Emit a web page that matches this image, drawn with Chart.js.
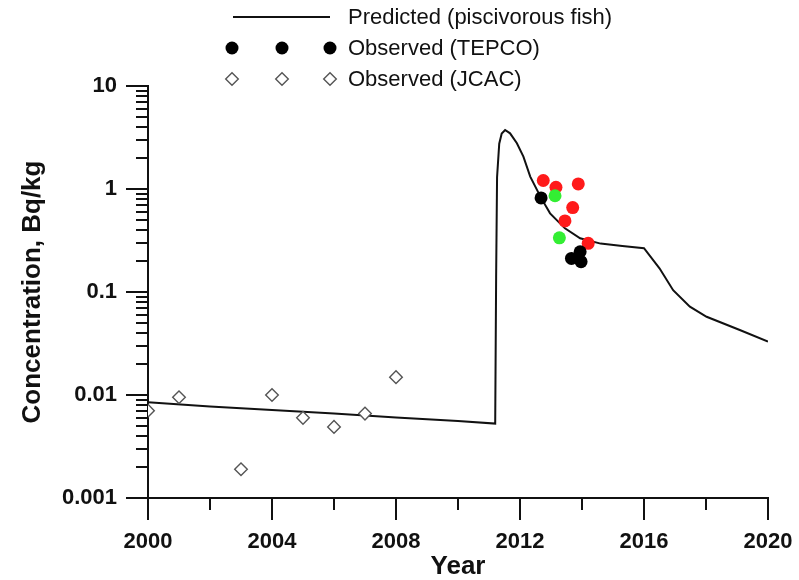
<!DOCTYPE html>
<html><head><meta charset="utf-8">
<script src="https://cdn.jsdelivr.net/npm/chart.js@4"></script>
<style>html,body{margin:0;padding:0;background:#fff}</style>
</head><body>
<canvas id="c" width="799" height="580"></canvas>
<script>
// ---- data ----
const predictedYears  = [2000, 2002, 2004, 2006, 2008, 2010, 2011.20, 2011.23, 2011.26, 2011.33, 2011.41, 2011.52, 2011.68, 2011.90, 2012.11, 2012.33, 2012.68, 2012.97, 2013.45, 2013.94, 2014.6, 2015.3, 2016.0, 2016.5, 2016.94, 2017.48, 2018.02, 2019.09, 2020];
const predictedValues = [0.00849, 0.00773, 0.00715, 0.00661, 0.00605, 0.0056, 0.00528, 0.14, 1.3, 2.75, 3.45, 3.74, 3.47, 2.78, 2.06, 1.32, 0.82, 0.58, 0.415, 0.332, 0.295, 0.28, 0.266, 0.17, 0.104, 0.072, 0.0575, 0.0428, 0.033];
const jcacYears  = [2000, 2001, 2003, 2004, 2005, 2006, 2007, 2008];
const jcacValues = [0.00705, 0.0095, 0.0019, 0.0100, 0.0060, 0.0049, 0.0066, 0.0149];
const tepcoBlackYears  = [2012.68, 2013.66, 2013.94, 2013.97];
const tepcoBlackValues = [0.82, 0.212, 0.246, 0.197];
const tepcoRedYears  = [2012.75, 2013.16, 2013.88, 2013.70, 2013.45, 2014.20];
const tepcoRedValues = [1.21, 1.04, 1.12, 0.66, 0.49, 0.297];
const tepcoGreenYears  = [2013.13, 2013.27];
const tepcoGreenValues = [0.86, 0.336];
const xTickLabels = ['2000', '2004', '2008', '2012', '2016', '2020'];
const yTickLabels = ['0.001', '0.01', '0.1', '1', '10'];
const legendLabels = ['Predicted (piscivorous fish)', 'Observed (TEPCO)', 'Observed (JCAC)'];
const xTitle = 'Year';
const yTitle = 'Concentration, Bq/kg';

const pts = (xs, ys) => xs.map((x, i) => ({x: x, y: ys[i]}));
const FONT = '"Liberation Sans", Arial, sans-serif';
const INK = '#111';

const axisTicksPlugin = {
  id: 'axisTicks',
  afterDraw(chart) {
    const ctx = chart.ctx, xs = chart.scales.x, ys = chart.scales.y, a = chart.chartArea;
    ctx.save();
    ctx.strokeStyle = INK; ctx.lineWidth = 2;
    ctx.beginPath();
    xs.ticks.forEach(t => {
      const px = Math.round(xs.getPixelForValue(t.value));
      const len = t.label !== '' ? 22 : 12;
      ctx.moveTo(px, a.bottom); ctx.lineTo(px, a.bottom + len);
    });
    ys.ticks.forEach(t => {
      const py = Math.round(ys.getPixelForValue(t.value));
      const len = t.label !== '' ? 22 : 12;
      ctx.moveTo(a.left, py); ctx.lineTo(a.left - len, py);
    });
    ctx.stroke();
    ctx.restore();
  }
};

const legendPlugin = {
  id: 'customLegend',
  afterDraw(chart) {
    const ctx = chart.ctx;
    const rows = [17, 48, 79];
    const mx = [232, 282, 330];
    ctx.save();
    const line = chart.data.datasets[0];
    ctx.strokeStyle = line.borderColor; ctx.lineWidth = line.borderWidth;
    ctx.beginPath(); ctx.moveTo(233, rows[0]); ctx.lineTo(330, rows[0]); ctx.stroke();
    const tep = chart.data.datasets[1];
    ctx.fillStyle = tep.backgroundColor;
    mx.forEach(x => { ctx.beginPath(); ctx.arc(x, rows[1], tep.pointRadius, 0, Math.PI * 2); ctx.fill(); });
    const jc = chart.data.datasets[4];
    ctx.strokeStyle = jc.borderColor; ctx.lineWidth = jc.borderWidth; ctx.fillStyle = jc.backgroundColor;
    mx.forEach(x => {
      const r = jc.pointRadius, y = rows[2];
      ctx.beginPath(); ctx.moveTo(x - r, y); ctx.lineTo(x, y - r); ctx.lineTo(x + r, y); ctx.lineTo(x, y + r); ctx.closePath();
      ctx.fill(); ctx.stroke();
    });
    ctx.fillStyle = INK; ctx.font = '22px ' + FONT; ctx.textBaseline = 'middle'; ctx.textAlign = 'left';
    legendLabels.forEach((s, i) => ctx.fillText(s, 348, rows[i] + 1));
    ctx.restore();
  }
};

new Chart(document.getElementById('c'), {
  type: 'scatter',
  data: {
    datasets: [
      { label: legendLabels[0], type: 'line', data: pts(predictedYears, predictedValues),
        borderColor: INK, borderWidth: 2, pointRadius: 0, tension: 0, fill: false, order: 5 },
      { label: legendLabels[1], data: pts(tepcoBlackYears, tepcoBlackValues),
        backgroundColor: '#000', borderColor: '#000', borderWidth: 0, pointRadius: 6.5, order: 1 },
      { label: 'TEPCO (red)', data: pts(tepcoRedYears, tepcoRedValues),
        backgroundColor: '#ff1a1a', borderColor: '#ff1a1a', borderWidth: 0, pointRadius: 6.5, order: 2 },
      { label: 'TEPCO (green)', data: pts(tepcoGreenYears, tepcoGreenValues),
        backgroundColor: '#33ee33', borderColor: '#33ee33', borderWidth: 0, pointRadius: 6.5, order: 1 },
      { label: legendLabels[2], data: pts(jcacYears, jcacValues), pointStyle: 'rectRot',
        backgroundColor: '#fff', borderColor: '#555', borderWidth: 1.4, pointRadius: 6.3, order: 1 }
    ]
  },
  options: {
    responsive: false, animation: false, devicePixelRatio: 1,
    layout: { padding: { top: 86, right: 31, left: 0, bottom: 0 } },
    plugins: { legend: { display: false }, tooltip: { enabled: false } },
    scales: {
      x: {
        type: 'linear', min: 2000, max: 2020,
        grid: { display: false, drawTicks: false, tickLength: 0 },
        border: { display: true, color: INK, width: 2 },
        ticks: { stepSize: 2, autoSkip: false, maxRotation: 0, padding: 31, color: INK,
          font: { family: FONT, size: 22, weight: 'bold' },
          callback: v => (v % 4 === 0 ? xTickLabels[(v - 2000) / 4] : '') },
        title: { display: true, text: xTitle, color: INK, padding: { top: 0, bottom: 0 },
          font: { family: FONT, size: 26, weight: 'bold', lineHeight: 1 } },
        afterFit(s) { s.height = 82; s.paddingLeft = 0; s.paddingRight = 0; }
      },
      y: {
        type: 'logarithmic', min: 0.001, max: 10,
        grid: { display: false, drawTicks: false, tickLength: 0 },
        border: { display: true, color: INK, width: 2 },
        afterBuildTicks(s) {
          const t = [];
          for (let e = -3; e < 1; e++) for (let m = 1; m <= 9; m++) t.push({ value: +(m * Math.pow(10, e)).toPrecision(6) });
          t.push({ value: 10 });
          s.ticks = t;
        },
        ticks: { autoSkip: false, padding: 31, color: INK,
          font: { family: FONT, size: 22, weight: 'bold' },
          callback: v => { const e = Math.log10(v); return Math.abs(e - Math.round(e)) < 1e-9 ? yTickLabels[Math.round(e) + 3] : ''; } },
        title: { display: true, text: yTitle, color: INK, padding: { top: 20, bottom: 0 },
          font: { family: FONT, size: 26, weight: 'bold', lineHeight: 1 } },
        afterFit(s) { s.width = 148; s.paddingTop = 0; s.paddingBottom = 0; }
      }
    }
  },
  plugins: [axisTicksPlugin, legendPlugin]
});
</script>
</body></html>
